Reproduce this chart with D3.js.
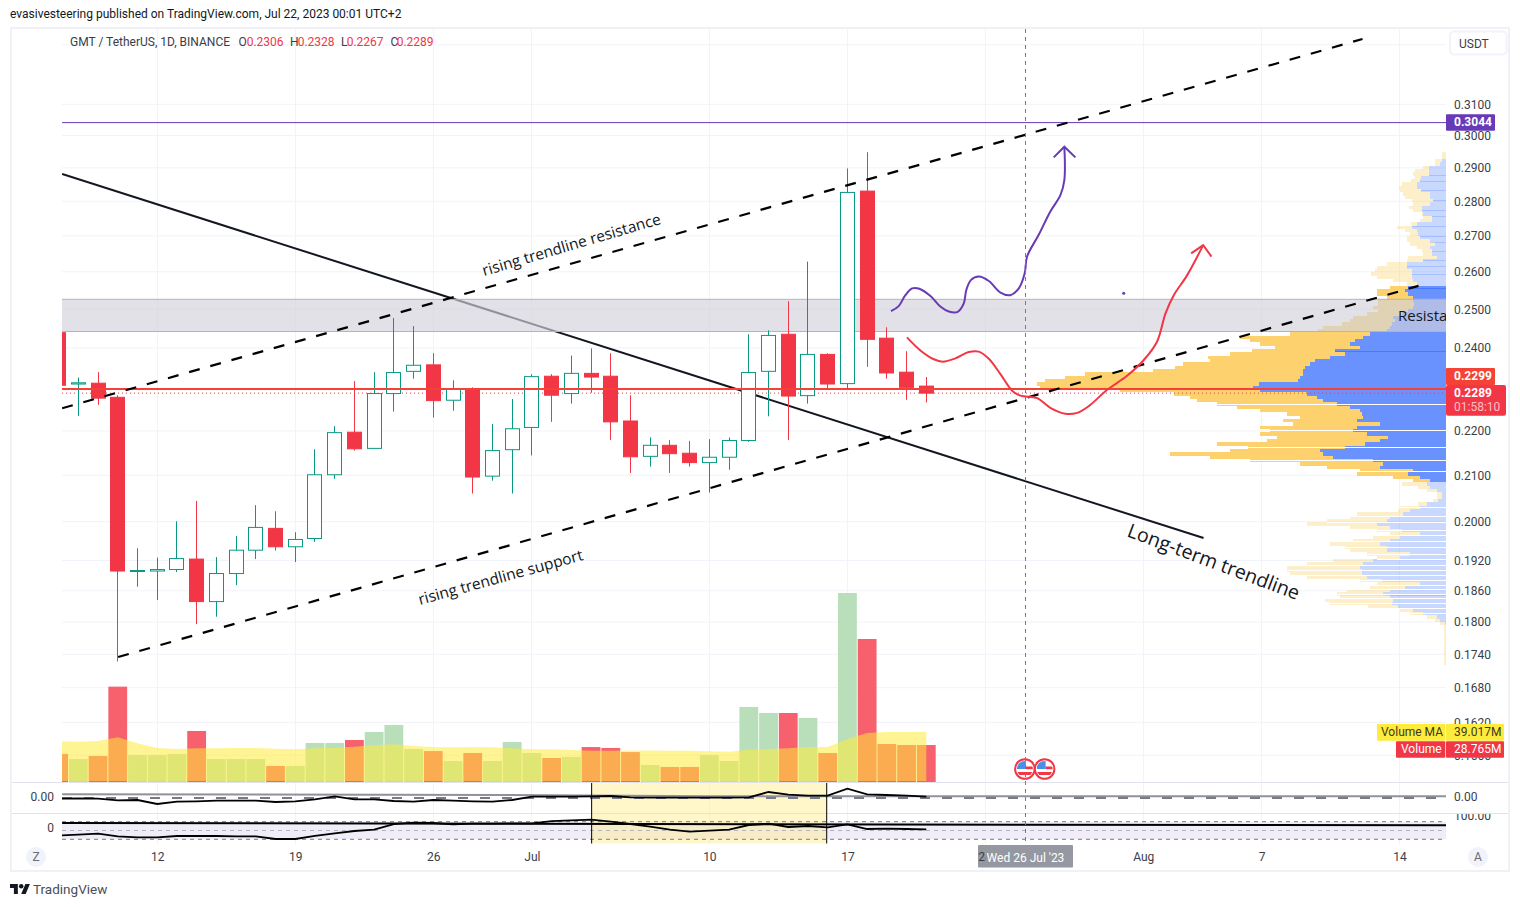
<!DOCTYPE html>
<html>
<head>
<meta charset="utf-8">
<script src="https://d3js.org/d3.v7.min.js"></script>
<style>
html,body{margin:0;padding:0;background:#fff;}
svg{display:block;}
text{font-family:"Roboto","Open Sans",sans-serif;}
</style>
</head>
<body>
<div id="chart"></div>
<script>
// ---------- data ----------
const opens  = [.2439,.2311,.2313,.2279,.1899,.1899,.1902,.1923,.1839,.1894,.1941,.1986,.1948,.1965,.2101,.2197,.2160,.2288,.2342,.2358,.2272,.2300,.2098,.2157,.2208,.2330,.2288,.2337,.2330,.2223,.2142,.2167,.2149,.2128,.2140,.2178,.2342,.2435,.2283,.2384,.2312,.2830,.2425,.2340,.2306];
const highs  = [.2445,.2327,.2340,.2284,.1945,.1926,.2001,.2044,.1927,.1970,.2035,.2022,.1978,.2158,.2211,.2318,.2340,.2477,.2456,.2387,.2320,.2303,.2216,.2275,.2335,.2335,.2381,.2399,.2387,.2284,.2185,.2179,.2177,.2181,.2185,.2435,.2445,.2521,.2628,.2387,.2898,.2948,.2453,.2392,.2328];
const lows   = [.2300,.2235,.2261,.1727,.1868,.1842,.1897,.1796,.1810,.1871,.1923,.1940,.1917,.1958,.2092,.2155,.2160,.2245,.2324,.2231,.2247,.2060,.2088,.2060,.2144,.2221,.2264,.2290,.2179,.2105,.2119,.2105,.2119,.2062,.2112,.2175,.2234,.2179,.2264,.2300,.2300,.2353,.2324,.2273,.2267];
const closes = [.2308,.2314,.2277,.1899,.1900,.1902,.1924,.1839,.1894,.1941,.1988,.1948,.1963,.2101,.2196,.2159,.2288,.2339,.2357,.2271,.2299,.2096,.2155,.2205,.2329,.2284,.2337,.2328,.2221,.2141,.2167,.2148,.2128,.2140,.2178,.2339,.2432,.2282,.2384,.2311,.2826,.2422,.2338,.2303,.2289];
const volumes = [21.8,17.9,20.2,74.2,21,21,21.8,39.7,17.9,17.9,17.9,12.5,12.5,30.4,30.4,32.7,38.9,44.4,25.7,24.1,16.3,22.6,16.3,31.1,22.6,18.7,19.5,27.2,26.5,23.3,13.2,11.7,11.7,21,16.3,58.4,53.7,53.7,49.8,22.6,147.1,111.3,29.6,28.8,28.765];
const volumeMA = [31.7,31.4,31.9,34.8,30.1,26.5,25.7,26.2,26.2,26.5,26.5,25.9,25.4,26.2,26.7,27.5,28.6,29.3,28,27.2,27.1,27.2,27.1,26.2,25.4,25.4,24.9,24.4,24.4,24.6,24.6,24.4,24.4,23.9,23.6,25.1,25.7,26.2,27.2,27.2,33.5,38.1,38.9,38.9,39.017];
const macd = [-.0007,-.0003,-.0007,-.0023,-.002,-.006,-.0037,-.0033,-.0027,-.0027,-.0027,-.004,-.0033,-.0013,.0017,-.0013,-.0013,-.003,-.0037,-.002,-.0027,-.0033,-.0037,-.002,.0013,.0013,.0013,.0017,.002,.0007,.0003,.0003,.0003,.0003,.0003,.0007,.006,.0033,.0023,.0023,.0093,.0037,.003,.0023,.0013];
const oscillator = [32.5,35.9,39.2,30.2,26.8,26.8,31.3,31.3,31.3,30.2,30.2,21.1,21.1,31.3,40.4,48.3,52.8,72.1,76.6,75.5,70.9,73.2,73.2,74.3,74.3,82.3,84.5,86.8,80,72.1,63,52.8,46,49.4,52.8,68.7,73.2,61.9,65.3,60.8,70.9,55.1,56.2,55.1,54];

const priceTicks = [.31,.30,.29,.28,.27,.26,.25,.24,.22,.21,.20,.192,.186,.18,.174,.168,.162,.1565];
const gridOnlyPrices = [.33];
const xTickDates = ["2023-06-12","2023-06-19","2023-06-26","2023-07-01","2023-07-10","2023-07-17","2023-07-24","2023-08-01","2023-08-07","2023-08-14"];
const xTickLabels = ["12","19","26","Jul","10","17","24","Aug","7","14"];

// drawings: [day counted from 1 June, price]
const longTermLine = [[7.18,.2881],[65.06,.1966]];
const resistanceLine = [[7.18,.2253],[73.12,.3320]];
const supportLine = [[10.02,.1735],[75.96,.2562]];
const purplePath = [[49.21,.2495],[49.60,.2508],[49.94,.2537],[50.28,.2555],[50.61,.2555],[51.21,.2535],[51.71,.2507],[52.14,.2494],[52.59,.2493],[52.90,.2515],[53.03,.2551],[53.27,.2578],[53.66,.2587],[54.17,.2575],[54.76,.2544],[55.26,.2537],[55.69,.2555],[55.99,.2596],[56.11,.2642],[56.70,.2703],[57.29,.2770],[57.80,.2818],[58.00,.2863],[58.00,.2965]];
const purpleHead = [[57.46,.2932],[58.00,.2965],[58.56,.2932]];
const purpleDot = [61.01,.2542];
const redPath = [[50.02,.2427],[50.70,.2394],[51.38,.2372],[51.83,.2366],[52.47,.2374],[53.15,.2390],[53.66,.2391],[54.17,.2373],[54.76,.2335],[55.35,.2295],[55.77,.2283],[56.62,.2277],[57.29,.2254],[58.05,.2240],[58.65,.2242],[59.24,.2258],[60.17,.2297],[61.18,.2331],[62.03,.2370],[62.70,.2416],[63.13,.2489],[63.55,.2537],[64.23,.2591],[65.04,.2674]];
const redHead = [[64.43,.2651],[65.04,.2674],[65.46,.2642]];
const zonePrices = [.2526,.2442];
const purpleLevel = .3041, redLevel = .2299, lastClose = .2289;
const signalLine = [[7.18,.0037],[29.5,.0030],[40,.0017],[77.4,.0017]];
const flatOsc = [[7.18,75.5],[77.4,67.5]];

// volume profile rows, top to bottom
const vpUp = [0,0,4.3,6,17.3,17.3,17.3,25.3,26,29.3,
 29.3,25.3,16,16,12.7,16,24,24,22.7,14.3,
 14.3,29.3,34.3,29.3,27.7,26,16,11,16,14.3,
 14.3,9.3,22.7,39.3,39.3,34.3,34.3,34.3,32.7,29.3,
 37.7,41,37.7,32.7,32.7,32,32.7,37.7,44.3,52.7,
 51,54.3,56,59.3,76,82.7,91,96,86,111,
 101,116,131,136,141,142.7,142.7,146,147.7,186.7,
 192.7,186,139.3,129.3,122.7,109.3,96,86,84.3,82.7,
 89.3,66,89.3,92.7,79.3,57.7,66,81,101,126,
 122.7,112.7,72.7,62.7,66,32.7,37.7,26,16,19.3,
 16,9.3,4.3,4.3,7.7,19.3,26,36,42.7,56,
 59.3,69.3,56,44.3,26,46,56,66,59.3,59.3,
 36,46,72.7,82.7,86,84.3,84.3,79.3,64.3,26,
 41,56,62.7,56,52.7,54.3,47.7,32.7,22.7,9.3,
 6,1,0,0,0,0,0,0,0,0,0,0,0,0];
const vpDown = [4.3,4.3,6.7,5,5.3,13.7,15.3,5.7,9.3,15,
 18,20.7,26.7,25,21.7,16.7,12.7,8.7,1.7,8.3,
 11.7,6,14.3,11.7,8.3,13.3,22.7,25,13.3,10,
 8.3,28.3,16.7,20,30,36.7,41,35,20,10,
 18.3,27.7,31,26.7,35,35.7,40,30,35,40,
 45,50,66.7,68.3,80,123.3,105,90,85,83.3,
 115,121.7,105,126.7,130,150,218,235,253,222,
 213,140,133,126.7,126.7,120,113.3,100,75,63.3,
 73.3,86.7,96.7,83.3,106.7,111.7,113.3,148.3,96.7,90,
 153.3,123.3,123.3,83.3,53.3,53.3,51.7,26.7,16.7,25,
 11.7,10,5,5,5,8.3,20,11.7,46.7,40,
 60,70,40,25,30,26.7,36.7,50,41.7,36.7,
 43.3,23.3,40,56.7,73.3,75,71.7,60,21.7,43.3,
 35,43.3,46.7,50,68.3,61.7,30,13.3,13.3,10,
 5,5,1.7,1.7,1.7,1.7,1.7,1.7,1.7,1.7,1.7,1.7,1.7,1.7];
const vpTopPrice = .2948, vpLogStep = .0035, vaHigh = .2567, vaLow = .2089;
// rows where the profile shows a seam (white) or a doubled row (darker)
const vpSeamPrices = [.2264,.2203,.2163,.2133,.2109,.2032,.2011,.1999,.1983,.1973,.1960,.1947,.1934,.1924,.1911,.1901,.1891,.1882,.1872,.1863,.1854,.1845,.1836,.1827,.1818];
const vpDoublePrices = [.2878,.2860,.2833,.2805,.2775,.2757,.2728,.2700,.2683,.2658,.2633,.2616,.2593,.2555,.2393];

// ---------- scales ----------
const W = 1520, H = 907;
const L = 62, R = 1446;
const dayMs = 864e5, origin = Date.UTC(2023,5,1);
const at = n => new Date(origin + (n-1)*dayMs);
const dates = d3.utcDay.range(new Date(Date.UTC(2023,5,7)), new Date(Date.UTC(2023,6,22)));

const x = d3.scaleUtc().domain([new Date(Date.UTC(2023,5,12)), new Date(Date.UTC(2023,7,14))]).range([157.2,1399.6]);
const y = d3.scaleLog().domain([.31,.174]).range([104.3,654.3]);
const yVol = d3.scaleLinear().domain([0,100]).range([782,653.5]);
const yMacd = d3.scaleLinear().domain([0,.01]).range([798,788]);
const yOsc = d3.scaleLinear().domain([80,20]).range([821.7,839.3]);
const vpX = d3.scaleLinear().domain([0,410]).range([R,R-410]);
const pt = s => new Date(s+"T00:00:00Z");

const svg = d3.select("#chart").append("svg").attr("width",W).attr("height",H).attr("viewBox",`0 0 ${W} ${H}`);
const defs = svg.append("defs");
const clip = (id,a,b,c,d)=>defs.append("clipPath").attr("id",id).append("rect").attr("x",a).attr("y",b).attr("width",c-a).attr("height",d-b);
clip("cMain",L,28,R,782);
clip("cP1",L,783,R,813);
clip("cP2",L,814,R,844);
clip("cAxis2",R,814,W,844);
clip("cLeftHalf",-10,0,10,30);

const inkCol = "#131722", axisCol = "#3a3e4a", gridCol = "#f0f3fa", sepCol = "#e0e3eb";
const upCol = "#089981", dnCol = "#f23645";

// header
svg.append("text").attr("x",10).attr("y",18).attr("font-size",12).attr("fill",inkCol).text("evasivesteering published on TradingView.com, Jul 22, 2023 00:01 UTC+2");
// frame
svg.append("rect").attr("x",11).attr("y",28).attr("width",1498).attr("height",843).attr("fill","#fff").attr("stroke","#eff1f6").attr("stroke-width",2);

// grid
const grid = svg.append("g");
grid.selectAll(".gh").data(priceTicks.concat(gridOnlyPrices)).join("line")
  .attr("x1",L).attr("x2",R).attr("y1",d=>y(d)).attr("y2",d=>y(d)).attr("stroke",gridCol).attr("stroke-width",1);
grid.selectAll(".gv").data(xTickDates).join("line")
  .attr("x1",d=>Math.floor(x(pt(d)))+.5).attr("x2",d=>Math.floor(x(pt(d)))+.5).attr("y1",29).attr("y2",844).attr("stroke",gridCol).attr("stroke-width",1);

const main = svg.append("g").attr("clip-path","url(#cMain)");

// volume profile
const vpRows = vpUp.map((u,i)=>({u, d:vpDown[i], p:vpTopPrice*Math.exp(-i*vpLogStep), q:vpTopPrice*Math.exp(-(i+1)*vpLogStep)}));
const inVA = r => r.p<=vaHigh && r.p>=vaLow;
const rowAt = p => vpRows[Math.max(0,Math.min(vpRows.length-1,Math.floor(Math.log(vpTopPrice/p)/vpLogStep)))];
const vp = main.append("g").attr("shape-rendering","crispEdges");
vp.selectAll(".vb").data(vpRows.filter(r=>r.u>0)).join("rect")
  .attr("x",r=>vpX(r.u)).attr("width",r=>R-vpX(r.u)).attr("y",r=>y(r.p)).attr("height",r=>y(r.q)-y(r.p))
  .attr("fill","#6a92ff").attr("fill-opacity",r=>inVA(r)?1:.36);
vp.selectAll(".vo").data(vpRows).join("rect")
  .attr("x",r=>vpX(r.u+r.d)).attr("width",r=>vpX(r.u)-vpX(r.u+r.d)).attr("y",r=>y(r.p)).attr("height",r=>y(r.q)-y(r.p))
  .attr("fill","#fdd26e").attr("fill-opacity",r=>inVA(r)?1:.36);
vp.selectAll(".vs").data(vpSeamPrices).join("line")
  .attr("x1",p=>{const r=rowAt(p);return vpX(r.u+r.d);}).attr("x2",R).attr("y1",p=>Math.round(y(p))+.5).attr("y2",p=>Math.round(y(p))+.5)
  .attr("stroke","#fff").attr("stroke-width",1);
vp.selectAll(".vd").data(vpDoublePrices).join("line")
  .attr("x1",p=>vpX(rowAt(p).u)).attr("x2",R).attr("y1",p=>Math.round(y(p))+.5).attr("y2",p=>Math.round(y(p))+.5)
  .attr("stroke",p=>inVA(rowAt(p))?"#3f73ff":"#6a92ff").attr("stroke-opacity",p=>inVA(rowAt(p))?.8:.36).attr("stroke-width",1);

const lineP = d3.line().x(d=>x(at(d[0]))).y(d=>y(d[1]));

// long-term trendline sits under the zone
main.append("path").attr("d",lineP(longTermLine)).attr("fill","none").attr("stroke",inkCol).attr("stroke-width",2);

// zone
main.append("rect").attr("x",L).attr("width",R-L).attr("y",y(zonePrices[0])).attr("height",y(zonePrices[1])-y(zonePrices[0]))
  .attr("fill","rgb(209,210,218)").attr("fill-opacity",.66);
main.selectAll(".zb").data(zonePrices).join("line").attr("x1",L).attr("x2",R).attr("y1",d=>y(d)).attr("y2",d=>y(d)).attr("stroke","#b2b5be").attr("stroke-width",1);
main.append("text").attr("x",1398).attr("y",321).attr("font-size",15).attr("fill",inkCol).style("font-family","'Open Sans'").text("Resista");

// horizontal levels
main.append("line").attr("x1",L).attr("x2",R).attr("y1",y(purpleLevel)).attr("y2",y(purpleLevel)).attr("stroke","#673ab7").attr("stroke-width",1);
main.append("line").attr("x1",L).attr("x2",R).attr("y1",y(lastClose)).attr("y2",y(lastClose)).attr("stroke",dnCol).attr("stroke-width",1).attr("stroke-dasharray","1 3");

// volume
const volG = main.append("g");
volG.selectAll(".v").data(dates).join("rect")
  .attr("x",d=>x(d)-9.4).attr("width",18.8)
  .attr("y",(d,i)=>yVol(volumes[i])).attr("height",(d,i)=>782-yVol(volumes[i]))
  .attr("fill",(d,i)=>closes[i]>=opens[i]?"#b8dfba":"#f7616e");
const maArea = d3.area().x(d=>x(d)).y0(781).y1((d,i)=>yVol(volumeMA[i]));
volG.append("path").attr("d",maArea(dates)).attr("fill","#ffeb3b").attr("fill-opacity",.55);

// candles
const cx = d => Math.floor(x(d))+.5;
const candles = main.append("g").selectAll("g").data(dates).join("g");
candles.append("line").attr("x1",cx).attr("x2",cx)
  .attr("y1",(d,i)=>y(highs[i])).attr("y2",(d,i)=>y(lows[i]))
  .attr("stroke",(d,i)=>closes[i]>=opens[i]?upCol:dnCol).attr("stroke-width",1);
candles.append("rect").attr("x",d=>cx(d)-7).attr("width",14)
  .attr("y",(d,i)=>y(Math.max(opens[i],closes[i])))
  .attr("height",(d,i)=>Math.max(1,y(Math.min(opens[i],closes[i]))-y(Math.max(opens[i],closes[i]))))
  .attr("fill",(d,i)=>closes[i]>=opens[i]?"#fff":dnCol)
  .attr("stroke",(d,i)=>closes[i]>=opens[i]?upCol:dnCol).attr("stroke-width",1);

// red level on top of candles
main.append("line").attr("x1",L).attr("x2",R).attr("y1",y(redLevel)).attr("y2",y(redLevel)).attr("stroke","#f44336").attr("stroke-width",2);

// dashed channel
[resistanceLine,supportLine].forEach(l=>{
  main.append("path").attr("d",lineP(l)).attr("fill","none").attr("stroke","#000").attr("stroke-width",2.2).attr("stroke-dasharray","11 11");
});

// hand-drawn paths
const curve = d3.line().x(d=>x(at(d[0]))).y(d=>y(d[1])).curve(d3.curveCatmullRom.alpha(.5));
main.append("path").attr("d",curve(purplePath)).attr("fill","none").attr("stroke","#673ab7").attr("stroke-width",2);
main.append("path").attr("d",lineP(purpleHead)).attr("fill","none").attr("stroke","#673ab7").attr("stroke-width",2);
main.append("circle").attr("cx",x(at(purpleDot[0]))).attr("cy",y(purpleDot[1])).attr("r",1.5).attr("fill","#673ab7");
main.append("path").attr("d",curve(redPath)).attr("fill","none").attr("stroke",dnCol).attr("stroke-width",2);
main.append("path").attr("d",lineP(redHead)).attr("fill","none").attr("stroke",dnCol).attr("stroke-width",2);

// annotations
const note = (t,px,py,rot,fs)=>main.append("text").attr("transform",`translate(${px},${py}) rotate(${rot})`).attr("font-size",fs).attr("fill",inkCol).style("font-family","'Open Sans'").text(t);
note("rising trendline resistance",484,276,-16.4,15.4);
note("rising trendline support",420,605,-15.4,15.5);
note("Long-term trendline",1126,536,20.6,19.5);

// event icons
const icon = main.selectAll(".ic").data([at(56),at(57)]).join("g").attr("transform",d=>`translate(${x(d)},769)`);
defs.append("clipPath").attr("id","cIc").append("circle").attr("r",8);
icon.append("circle").attr("r",9.8).attr("fill","#fff").attr("stroke",dnCol).attr("stroke-width",2);
const iconIn = icon.append("g").attr("clip-path","url(#cIc)");
iconIn.append("rect").attr("x",-8).attr("y",-8).attr("width",9).attr("height",8).attr("fill","#4b8fe8");
iconIn.append("rect").attr("x",1).attr("y",-2.5).attr("width",8).attr("height",2.7).attr("fill",dnCol);
iconIn.append("rect").attr("x",-8).attr("y",3).attr("width",16).attr("height",3).attr("fill",dnCol);

// panes: backgrounds first, then the highlight box, then the lines
const p2bg = svg.append("g").attr("clip-path","url(#cP2)");
p2bg.append("rect").attr("x",L).attr("width",R-L).attr("y",yOsc(80)).attr("height",yOsc(20)-yOsc(80)).attr("fill","#f0edf8");

const bx0 = x(at(34.03)), bx1 = x(at(45.95));
svg.append("rect").attr("x",bx0).attr("width",bx1-bx0).attr("y",783).attr("height",60.5).attr("fill","#ffeb74").attr("fill-opacity",.38);

svg.selectAll(".sep").data([782.5,813.5]).join("line").attr("x1",12).attr("x2",1508).attr("y1",d=>d).attr("y2",d=>d).attr("stroke",sepCol).attr("stroke-width",1.2);

const p1 = svg.append("g").attr("clip-path","url(#cP1)");
const p2 = svg.append("g").attr("clip-path","url(#cP2)");
const macdLine = d3.line().x((d,i)=>x(dates[i])).y(d=>yMacd(d));
p1.append("path").attr("d",d3.line().x(d=>x(at(d[0]))).y(d=>yMacd(d[1]))(signalLine)).attr("fill","none").attr("stroke","#8f929b").attr("stroke-width",2);
p1.append("line").attr("x1",L).attr("x2",R).attr("y1",yMacd(0)).attr("y2",yMacd(0)).attr("stroke","#787b86").attr("stroke-width",2).attr("stroke-dasharray","10 12");
p1.append("path").attr("d",macdLine(macd)).attr("fill","none").attr("stroke","#000").attr("stroke-width",1.8);

p2.selectAll(".osl").data([80,50,20]).join("line").attr("x1",L).attr("x2",R).attr("y1",d=>yOsc(d)).attr("y2",d=>yOsc(d))
  .attr("stroke",d=>d===50?"#b2b5be":"#787b86").attr("stroke-width",1).attr("stroke-dasharray","4 4");
p2.append("path").attr("d",d3.line().x(d=>x(at(d[0]))).y(d=>yOsc(d[1]))(flatOsc)).attr("fill","none").attr("stroke","#000").attr("stroke-width",2);
p2.append("path").attr("d",d3.line().x((d,i)=>x(dates[i])).y(d=>yOsc(d))(oscillator)).attr("fill","none").attr("stroke","#000").attr("stroke-width",1.8);

svg.selectAll(".bxl").data([bx0,bx1]).join("line").attr("x1",d=>d).attr("x2",d=>d).attr("y1",783).attr("y2",843.5).attr("stroke","#000").attr("stroke-width",1);

// crosshair
const crossX = Math.round(x(at(56)))+.5;
svg.append("line").attr("x1",crossX).attr("x2",crossX).attr("y1",29).attr("y2",845).attr("stroke","#787b86").attr("stroke-width",1).attr("stroke-dasharray","4 4");

// crosshair label box, then the x axis whose "24" is half covered
svg.append("rect").attr("x",978).attr("y",845).attr("width",95).attr("height",22.5).attr("rx",1).attr("fill","#9598a1");

const xAxis = d3.axisBottom(x).tickValues(xTickDates.map(pt)).tickSize(0).tickPadding(0)
  .tickFormat((d,i)=>xTickLabels[i]);
const gx = svg.append("g").attr("transform","translate(0,852)").call(xAxis);
gx.select(".domain").remove();
gx.selectAll("text").attr("font-size",12).attr("fill",axisCol).style("font-family","Roboto")
  .filter((d,i)=>xTickLabels[i]==="24").attr("clip-path","url(#cLeftHalf)").attr("dx",-1);
// clip window for that one label reaches only over its first digit
d3.select("#cLeftHalf rect").attr("x",-10).attr("width",9.5);

svg.append("text").attr("x",1025.5).attr("y",862).attr("text-anchor","middle").attr("font-size",12).attr("fill","#fff").text("Wed 26 Jul '23");

// y axis
const yAxis = d3.axisRight(y).tickValues(priceTicks).tickSize(0).tickPadding(8).tickFormat(d3.format(".4f"));
const gy = svg.append("g").attr("transform",`translate(${R},0)`).call(yAxis);
gy.select(".domain").remove();
gy.selectAll("text").attr("font-size",12).attr("fill",axisCol).style("font-family","Roboto");

// pane labels
const paneText = (t,px,py,anchor,g)=> (g||svg).append("text").attr("x",px).attr("y",py).attr("text-anchor",anchor).attr("dominant-baseline","middle").attr("font-size",12).attr("fill",axisCol).text(t);
paneText("0.00",54,798,"end");
paneText("0",54,828.5,"end");
paneText("0.00",1454,798,"start");
paneText("100.00",1454,816.5,"start",svg.append("g").attr("clip-path","url(#cAxis2)"));

// price badges
const badge = (t,a,b,c,d,fill,col,anchor,tx,bold)=>{
  svg.append("rect").attr("x",a).attr("y",b).attr("width",c-a).attr("height",d-b).attr("fill",fill).attr("rx",1);
  svg.append("text").attr("x",tx).attr("y",(b+d)/2+.5).attr("text-anchor",anchor).attr("dominant-baseline","middle").attr("font-size",12).attr("font-weight",bold?700:400).attr("fill",col).text(t);
};
badge(d3.format(".4f")(.3044),R,114.3,1495,130.7,"#673ab7","#fff","start",1454,true);
badge(d3.format(".4f")(redLevel),R,368,1495,385,"#f44336","#fff","start",1454,true);
svg.append("rect").attr("x",R).attr("y",385).attr("width",60).attr("height",30.7).attr("rx",2).attr("fill",dnCol);
svg.append("text").attr("x",1454).attr("y",394).attr("dominant-baseline","middle").attr("font-size",12).attr("font-weight",700).attr("fill","#fff").text(d3.format(".4f")(lastClose));
svg.append("text").attr("x",1454).attr("y",408).attr("dominant-baseline","middle").attr("font-size",12).attr("fill","#fbc0c5").text("01:58:10");
badge("Volume MA",1377,724,1445.3,740.7,"#ffeb3b","#3a3a20","start",1381,false);
badge("39.017M",1446,724,1504,740.7,"#ffeb3b","#3a3a20","start",1454,false);
badge("Volume",1396,741.3,1445.3,757.7,dnCol,"#fff","start",1401,false);
badge("28.765M",1446,741.3,1504,757.7,dnCol,"#fff","start",1454,false);

// legend
const legend = [["GMT / TetherUS, 1D, BINANCE",70,"#3a3e4a"],["O",238.5,"#3a3e4a"],["0.2306",246.7,dnCol],["H",290,"#3a3e4a"],["0.2328",297.7,dnCol],["L",341,"#3a3e4a"],["0.2267",346.7,dnCol],["C",390.5,"#3a3e4a"],["0.2289",396.7,dnCol]];
svg.selectAll(".lg").data(legend).join("text").attr("x",d=>d[1]).attr("y",45.5).attr("font-size",12).attr("fill",d=>d[2]).text(d=>d[0]);

// USDT button
svg.append("rect").attr("x",1450).attr("y",31.5).attr("width",56.5).attr("height",23).attr("rx",4).attr("fill","#fff").attr("stroke","#f0f3fa").attr("stroke-width",2);
svg.append("text").attr("x",1459).attr("y",47.5).attr("font-size",12).attr("fill",axisCol).text("USDT");

// Z / A buttons
[[36,"Z"],[1478,"A"]].forEach(b=>{
  svg.append("circle").attr("cx",b[0]).attr("cy",857).attr("r",10).attr("fill","#f0f3fa");
  svg.append("text").attr("x",b[0]).attr("y",861).attr("text-anchor","middle").attr("font-size",12).attr("fill","#6a6d78").text(b[1]);
});

// footer
svg.append("path").attr("transform","translate(10,881.8) scale(.56)").attr("fill","#131722")
  .attr("d","M14 22H7V11H0V4h14v18zM28 22h-8l7.5-18h8L28 22z");
svg.append("circle").attr("transform","translate(10,881.8) scale(.56)").attr("cx",20).attr("cy",8).attr("r",4).attr("fill","#131722");
svg.append("text").attr("x",33).attr("y",894).attr("font-size",13.5).attr("fill","#4a4e59").text("TradingView");
</script>
</body>
</html>
